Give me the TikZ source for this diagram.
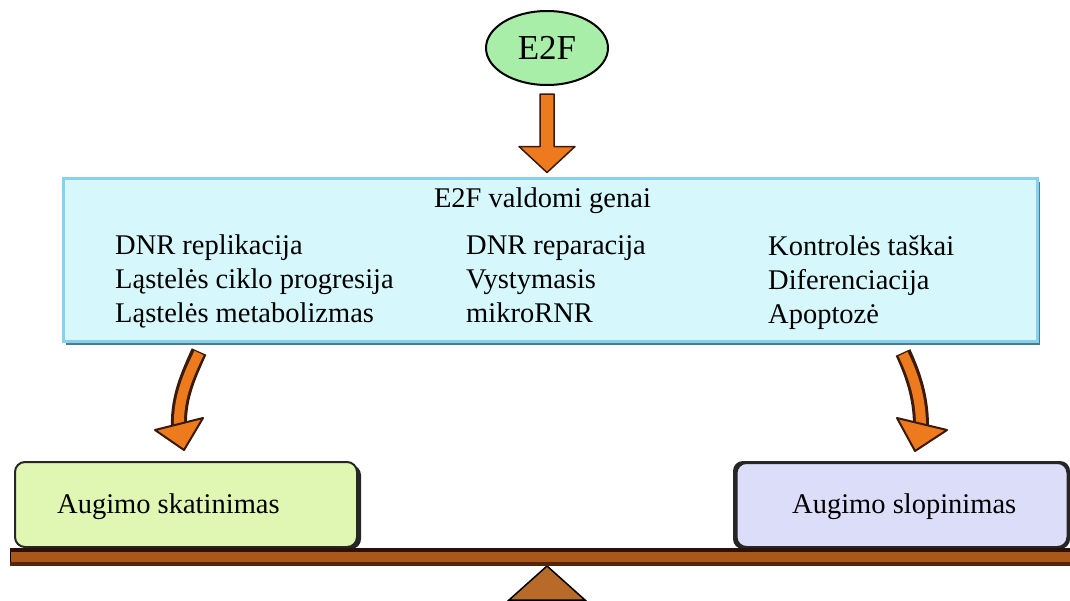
\documentclass[tikz,border=0pt]{standalone}
\usepackage{fontspec}
\setmainfont{Liberation Serif}
\usetikzlibrary{calc,shapes.geometric}
\definecolor{bluefill}{HTML}{D6F7FB}
\definecolor{bluelight}{HTML}{86D2EE}
\definecolor{bluedark}{HTML}{4F7A8C}
\definecolor{greenfill}{HTML}{DFF7B2}
\definecolor{purplefill}{HTML}{DCDDF8}
\definecolor{e2fgreen}{HTML}{A8EEA8}
\definecolor{arroworange}{HTML}{EE7A1E}
\definecolor{arrowdark}{HTML}{3A1A0A}
\definecolor{beambrown}{HTML}{A9581A}
\definecolor{beamdark}{HTML}{2E1005}
\definecolor{fulcbrown}{HTML}{B86A28}
\begin{document}
\begin{tikzpicture}[x=1pt,y=-1pt,
  txt/.style={font=\fontsize{28.5}{34}\selectfont, inner sep=0pt, anchor=base west},
  outerarrow/.style={line width=16pt, draw=arrowdark},
  innerarrow/.style={line width=10pt, draw=arroworange},
  headstyle/.style={fill=arroworange, draw=arrowdark, line width=2pt, line join=round},
  resbox/.style={draw=black!85, line width=2pt, rounded corners=10pt, inner sep=0pt}]
\useasboundingbox[fill=white] (0,0) rectangle (1070,600);

% fulcrum
\filldraw[fill=fulcbrown, draw=black, line width=1.5pt] (547,566) -- (585,600) -- (509,600) -- cycle;

% E2F ellipse
\node[ellipse, draw=black, line width=2pt, fill=e2fgreen, minimum width=122pt, minimum height=74pt,
  inner sep=0pt, font=\fontsize{35}{40}\selectfont] (e2f) at (547,48) {E2F};

% gene box
\fill[bluedark] (66,182) rectangle (1040,345);
\node[draw=bluelight, line width=3pt, fill=bluefill, minimum width=974pt, minimum height=163pt, inner sep=0pt] (genes) at (550,259.5) {};

\node[txt, anchor=base] (title) at (542.5,207) {E2F valdomi genai};
\node[txt] (c1a) at (115,254) {DNR replikacija};
\node[txt] (c1b) at (115,288) {Ląstelės ciklo progresija};
\node[txt] (c1c) at (115,322) {Ląstelės metabolizmas};
\node[txt] (c2a) at (466,254) {DNR reparacija};
\node[txt] (c2b) at (466,288) {Vystymasis};
\node[txt] (c2c) at (466,322) {mikroRNR};
\node[txt] (c3a) at (768,255) {Kontrolės taškai};
\node[txt] (c3b) at (768,289) {Diferenciacija};
\node[txt] (c3c) at (768,323) {Apoptozė};

% straight arrow
\coordinate (a1) at ($(e2f.south)+(0,8)$);
\coordinate (a2) at ($(e2f.south |- genes.north)+(0,-4)$);
\filldraw[headstyle, line width=1.5pt] ($(a1)+(-7,0)$) -- ($(a1)+(7,0)$) -- ($(a2)+(7,-26)$) -- ($(a2)+(28,-26)$)
  -- (a2) -- ($(a2)+(-28,-26)$) -- ($(a2)+(-7,-26)$) -- cycle;

% result boxes
\fill[black!85, rounded corners=10pt] (19,465) rectangle (361,549);
\node[resbox, fill=greenfill, minimum width=342pt, minimum height=85pt] (grow) at (186,504.5) {};
\node[txt] (growt) at (57,513) {Augimo skatinimas};
\fill[black!85, rounded corners=10pt] (733,461) rectangle (1070,549);
\node[resbox, fill=purplefill, minimum width=331pt, minimum height=84pt] (inhib) at (902,505) {};
\node[txt] (inhibt) at (792,513) {Augimo slopinimas};

% curved arrows
\coordinate (ls) at ($(genes.south -| 199,0)+(0,9)$);
\coordinate (lh) at (179,426);
\draw[outerarrow] (ls) .. controls (190,372) and (178,396) .. (lh);
\draw[innerarrow] ($(ls)+(0,1.5)$) .. controls (190,372) and (178,396) .. (lh);
\coordinate (ltip) at ($(grow.north -| 184,0)+(0,-11)$);
\filldraw[headstyle] (155,430) -- (203,418) -- (ltip) -- cycle;

\coordinate (rs) at ($(genes.south -| 903,0)+(0,10)$);
\coordinate (rh) at (921,426);
\draw[outerarrow] (rs) .. controls (912,372) and (921,396) .. (rh);
\draw[innerarrow] ($(rs)+(0,1.5)$) .. controls (912,372) and (921,396) .. (rh);
\coordinate (rtip) at ($(inhib.north -| 915,0)+(0,-11)$);
\filldraw[headstyle] (897,418) -- (947,430) -- (rtip) -- cycle;

% beam
\node[fill=beambrown, draw=black, line width=1pt, minimum width=1062pt, minimum height=17pt, inner sep=0pt] (beam) at (541,556.5) {};
\fill[beamdark] (beam.north west) rectangle ($(beam.north east)+(0,4)$);
\fill[beamdark!70!beambrown] ($(beam.south west)+(0,-4)$) rectangle (beam.south east);
\end{tikzpicture}
\end{document}
